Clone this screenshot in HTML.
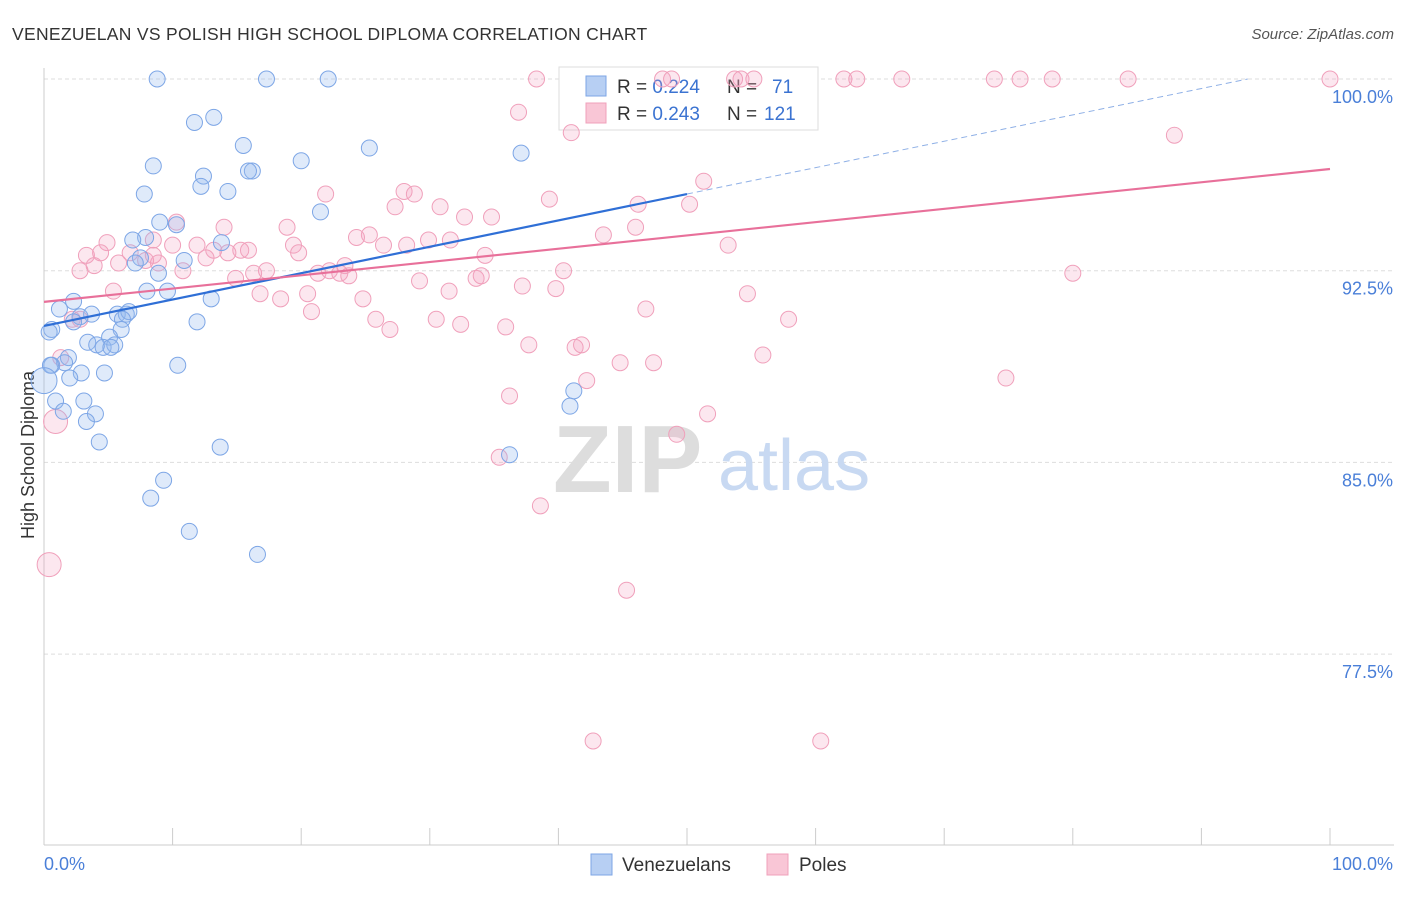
<!DOCTYPE html>
<html><head><meta charset="utf-8"><style>
body{margin:0;background:#fff;font-family:"Liberation Sans",sans-serif}
svg text{font-family:"Liberation Sans",sans-serif}
</style></head><body>
<svg id="chart" width="1406" height="892" xmlns="http://www.w3.org/2000/svg">
<text x="12" y="40" font-size="17.5" fill="#333" letter-spacing="0.3">VENEZUELAN VS POLISH HIGH SCHOOL DIPLOMA CORRELATION CHART</text>
<text x="1394" y="39" font-size="15" fill="#555" text-anchor="end" font-style="italic">Source: ZipAtlas.com</text>
<g id="grid"></g>
<g><text x="553" y="492" font-size="96" fill="#ddd" font-family="Liberation Serif" font-weight="bold">ZIP</text><text x="718" y="490" font-size="72" fill="#c8d9f2">atlas</text></g>
<g id="axes"></g>
<text transform="translate(34,455) rotate(-90)" font-size="18" fill="#333" text-anchor="middle">High School Diploma</text>
<g>
<rect x="559" y="67" width="259" height="63" fill="#fff" stroke="#ddd"/>
<rect x="586" y="76" width="20" height="20" fill="#b7cff3" stroke="#7da6e6"/>
<rect x="586" y="103" width="20" height="20" fill="#f9c6d6" stroke="#f0a0bb"/>
<text x="617" y="93" font-size="19" fill="#333">R = <tspan fill="#3b73d1">0.224</tspan><tspan x="727">N =</tspan><tspan x="772" fill="#3b73d1">71</tspan></text>
<text x="617" y="120" font-size="19" fill="#333">R = <tspan fill="#3b73d1">0.243</tspan><tspan x="727">N =</tspan><tspan x="764" fill="#3b73d1">121</tspan></text>
</g>
<g id="pts"></g>
<g id="lines"></g>
<g>
<rect x="591" y="854" width="21" height="21" fill="#b7cff3" stroke="#7da6e6"/>
<text x="622" y="871" font-size="19" fill="#333">Venezuelans</text>
<rect x="767" y="854" width="21" height="21" fill="#f9c6d6" stroke="#f0a0bb"/>
<text x="799" y="871" font-size="19" fill="#333">Poles</text>
</g>
</svg>
<script>
const yTicks=[100,92.5,85,77.5];
const yTickLabels=["100.0%","92.5%","85.0%","77.5%"];
const xTickLabels=["0.0%","100.0%"];
const venX=[8.8,17.3,22.1,11.7,13.2,15.5,25.3,37.1,8.5,20.0,16.2,15.9,12.4,12.2,14.3,7.8,21.5,9.0,10.3,7.9,6.9,13.8,7.5,7.1,10.9,8.9,8.0,9.6,13.0,2.3,1.2,3.7,2.8,2.3,5.7,6.4,6.6,6.1,6.0,11.9,0.6,0.4,5.1,3.4,4.1,4.6,5.5,5.2,1.9,1.6,10.4,0.6,2.9,4.7,2.0,41.2,40.9,3.1,0.9,1.5,4.0,3.3,4.3,13.7,36.2,9.3,8.3,11.3,16.6,0.5,0];
const venY=[100,100,100,98.3,98.5,97.4,97.3,97.1,96.6,96.8,96.4,96.4,96.2,95.8,95.6,95.5,94.8,94.4,94.3,93.8,93.7,93.6,93.0,92.8,92.9,92.4,91.7,91.7,91.4,91.3,91.0,90.8,90.7,90.5,90.8,90.8,90.9,90.6,90.2,90.5,90.2,90.1,89.9,89.7,89.6,89.5,89.6,89.5,89.1,88.9,88.8,88.8,88.5,88.5,88.3,87.8,87.2,87.4,87.4,87.0,86.9,86.6,85.8,85.6,85.3,84.3,83.6,82.3,81.4,88.8,88.2];
const polX=[38.3,48.1,48.8,53.7,54.2,55.2,62.2,63.2,66.7,73.9,75.9,78.4,84.3,100,36.9,41.0,87.9,51.3,21.9,28.0,28.8,39.3,27.3,30.8,32.7,34.8,46.2,50.2,10.3,14.0,18.9,25.3,43.5,46.0,24.3,26.4,28.2,29.9,31.6,34.3,4.9,8.5,10.0,11.9,19.4,4.4,3.3,6.7,8.5,15.3,15.9,13.2,14.3,19.8,12.6,7.9,8.9,3.9,2.8,5.8,10.8,17.3,16.3,21.3,22.2,23.4,23.0,23.7,40.4,80.0,53.2,33.6,34.0,14.9,29.2,31.5,37.2,39.8,5.4,16.8,20.5,18.4,24.8,20.8,25.8,26.9,30.5,32.4,35.9,54.7,46.8,57.9,2.8,2.2,37.7,41.3,41.8,44.8,47.4,55.9,1.3,42.2,74.8,36.2,51.6,49.2,35.4,38.6,45.3,42.7,60.4,0.9,0.4];
const polY=[100,100,100,100,100,100,100,100,100,100,100,100,100,100,98.7,97.9,97.8,96.0,95.5,95.6,95.5,95.3,95.0,95.0,94.6,94.6,95.1,95.1,94.4,94.2,94.2,93.9,93.9,94.2,93.8,93.5,93.5,93.7,93.7,93.1,93.6,93.7,93.5,93.5,93.5,93.2,93.1,93.2,93.1,93.3,93.3,93.3,93.2,93.2,93.0,92.9,92.8,92.7,92.5,92.8,92.5,92.5,92.4,92.4,92.5,92.7,92.4,92.3,92.5,92.4,93.5,92.2,92.3,92.2,92.1,91.7,91.9,91.8,91.7,91.6,91.6,91.4,91.4,90.9,90.6,90.2,90.6,90.4,90.3,91.6,91.0,90.6,90.6,90.6,89.6,89.5,89.6,88.9,88.9,89.2,89.1,88.2,88.3,87.6,86.9,86.1,85.2,83.3,80.0,74.1,74.1,86.6,81.0];
const venTrend=[90.34,95.5];
const polTrend=[91.28,96.48];
const NS="http://www.w3.org/2000/svg";
function sx(v){return 44+v*12.86;}
function sy(v){return 79+(100-v)*25.56;}
function mk(tag,attrs,parent){const e=document.createElementNS(NS,tag);for(const k in attrs)e.setAttribute(k,attrs[k]);parent.appendChild(e);return e;}
const grid=document.getElementById('grid'),axes=document.getElementById('axes'),pts=document.getElementById('pts'),lines=document.getElementById('lines');
yTicks.forEach((t,i)=>{
  const l=mk('line',{x1:44,x2:1394,y1:sy(t),y2:sy(t),stroke:'#ddd','stroke-dasharray':'4,3'},grid);
  
  
  const tx=mk('text',{x:1393,y:sy(t)+24,'font-size':18,fill:'#4a7fd8','text-anchor':'end'},axes);
  tx.textContent=yTickLabels[i];
  
  
});
mk('line',{x1:44,x2:44,y1:68,y2:845,stroke:'#ccc'},axes);
mk('line',{x1:44,x2:1394,y1:845,y2:845,stroke:'#ccc'},axes);
for(let i=0;i<=10;i++){mk('line',{x1:sx(i*10),x2:sx(i*10),y1:828,y2:845,stroke:'#ccc'},axes);}
[[0,'start',44],[100,'end',1393]].forEach((a,i)=>{
  const tx=mk('text',{x:a[2],y:870,'font-size':18,fill:'#4a7fd8','text-anchor':a[1]},axes);
  tx.textContent=xTickLabels[i];
  
  
});
polX.forEach((x,i)=>{
  const big=(i>=polX.length-2);
  const c=mk('circle',{cx:sx(x),cy:sy(polY[i]),r:big?12:8,fill:'rgba(245,160,190,0.25)',stroke:'#f0a0bb','stroke-width':1},pts);
  
  
});
venX.forEach((x,i)=>{
  const big=(i===venX.length-1);
  const c=mk('circle',{cx:sx(x),cy:sy(venY[i]),r:big?13:8,fill:'rgba(150,185,240,0.3)',stroke:'#7da6e6','stroke-width':1},pts);
  
  
});
const vs=(venTrend[1]-venTrend[0])/50;
const l1=mk('line',{x1:sx(0),y1:sy(venTrend[0]),x2:sx(50),y2:sy(venTrend[1]),stroke:'#2f6fd6','stroke-width':2.2},lines);


const xEnd=(100-venTrend[0])/vs;
const l2=mk('line',{x1:sx(50),y1:sy(venTrend[1]),x2:sx(xEnd),y2:sy(100),stroke:'#8fb0e6','stroke-width':1,'stroke-dasharray':'6,4'},lines);


const l3=mk('line',{x1:sx(0),y1:sy(polTrend[0]),x2:sx(100),y2:sy(polTrend[1]),stroke:'#e8709a','stroke-width':2.2},lines);


</script>
</body></html>
